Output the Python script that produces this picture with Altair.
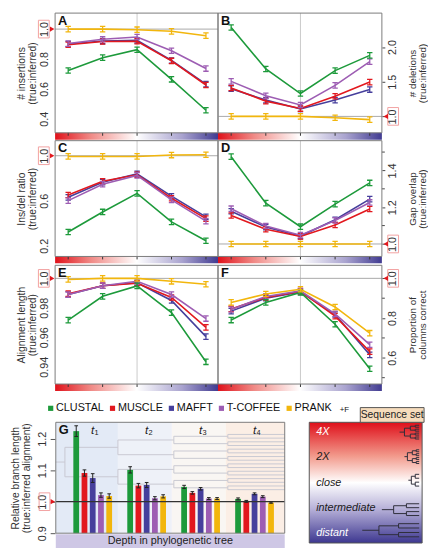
import altair as alt
import pandas as pd

# ---------------- data ----------------
methods = ["CLUSTAL", "MUSCLE", "MAFFT", "T-COFFEE", "PRANK"]
method_colors = ["#1d9a3b", "#e2181e", "#463f9c", "#9d5db3", "#f2b60d"]
draw_order = ["MAFFT", "MUSCLE", "T-COFFEE", "CLUSTAL", "PRANK"]
seq_sets = ["4X", "2X", "close", "intermediate", "distant"]
set_index = [0, 1, 2, 3, 4]

# A: # insertions (true:inferred)
ins_clustal = [0.723, 0.809, 0.862, 0.664, 0.457]
ins_muscle = [0.895, 0.917, 0.919, 0.787, 0.626]
ins_mafft = [0.900, 0.920, 0.925, 0.790, 0.632]
ins_tcoffee = [0.903, 0.932, 0.947, 0.855, 0.736]
ins_prank = [1.000, 1.000, 0.996, 0.985, 0.956]

# B: # deletions (true:inferred)
del_clustal = [2.283, 1.684, 1.330, 1.660, 1.880]
del_muscle = [1.410, 1.220, 1.113, 1.290, 1.495]
del_mafft = [1.400, 1.235, 1.108, 1.235, 1.387]
del_tcoffee = [1.505, 1.297, 1.165, 1.448, 1.790]
del_prank = [1.000, 1.000, 1.000, 0.980, 0.953]

# C: Ins/del ratio (true:inferred)
idr_clustal = [0.322, 0.500, 0.665, 0.412, 0.244]
idr_muscle = [0.651, 0.773, 0.831, 0.622, 0.441]
idr_mafft = [0.630, 0.765, 0.840, 0.640, 0.456]
idr_tcoffee = [0.601, 0.747, 0.825, 0.607, 0.418]
idr_prank = [0.994, 0.994, 0.994, 1.006, 1.009]

# D: Gap overlap (true:inferred)
gap_clustal = [1.475, 1.222, 1.094, 1.217, 1.332]
gap_muscle = [1.155, 1.080, 1.041, 1.103, 1.190]
gap_mafft = [1.178, 1.092, 1.043, 1.132, 1.244]
gap_tcoffee = [1.192, 1.098, 1.048, 1.128, 1.226]
gap_prank = [1.000, 1.000, 1.000, 1.000, 1.000]

# E: Alignment length (true:inferred)
len_clustal = [0.9716, 0.9878, 0.9949, 0.9767, 0.9433]
len_muscle = [0.9896, 0.9950, 0.9967, 0.9870, 0.9667]
len_mafft = [0.9890, 0.9950, 0.9970, 0.9850, 0.9604]
len_tcoffee = [0.9890, 0.9950, 0.9980, 0.9890, 0.9727]
len_prank = [0.9993, 1.0000, 1.0000, 0.9980, 0.9960]

# F: Proportion of columns correct
col_clustal = [0.790, 0.879, 0.929, 0.769, 0.545]
col_muscle = [0.846, 0.904, 0.934, 0.810, 0.631]
col_mafft = [0.835, 0.900, 0.932, 0.818, 0.615]
col_tcoffee = [0.843, 0.909, 0.937, 0.821, 0.666]
col_prank = [0.879, 0.921, 0.945, 0.856, 0.724]

# G: Relative branch length (true:inferred alignment)
branch_groups = ["t1", "t2", "t3", "t4"]
branch_sub = ["1", "2", "3", "4"]
br_clustal = [1.224, 1.101, 1.047, 1.009]
br_muscle = [1.091, 1.051, 1.028, 1.001]
br_mafft = [1.075, 1.053, 1.041, 1.025]
br_tcoffee = [1.021, 1.011, 1.010, 1.016]
br_prank = [1.018, 1.017, 1.010, 0.997]
br_err_clustal = [0.017, 0.010, 0.005, 0.003]
br_err_muscle = [0.010, 0.007, 0.004, 0.003]
br_err_mafft = [0.014, 0.008, 0.004, 0.003]
br_err_tcoffee = [0.007, 0.005, 0.003, 0.003]
br_err_prank = [0.007, 0.005, 0.003, 0.002]

# ---------------- style ----------------
FONT = "Liberation Sans"
RED = "#e2181e"
XDOM = [-0.38, 4.35]
IBEAM = "M-1,-1L1,-1M0,-1L0,1M-1,1L1,1"
CAP = "M-1,0L1,0"
one = pd.DataFrame({"k": [0]})
sets_df = pd.DataFrame({"pos": set_index, "set": seq_sets})
color_of = dict(zip(methods, method_colors))


def hgrad():
    return alt.Gradient(
        gradient="linear", x1=0, x2=1, y1=0, y2=0,
        stops=[alt.GradientStop(offset=0, color="#e0121b"),
               alt.GradientStop(offset=0.22, color="#f08a86"),
               alt.GradientStop(offset=0.5, color="#ffffff"),
               alt.GradientStop(offset=0.78, color="#a9a3cf"),
               alt.GradientStop(offset=1, color="#413b91")])


def vgrad():
    return alt.Gradient(
        gradient="linear", x1=0, x2=0, y1=0, y2=1,
        stops=[alt.GradientStop(offset=0, color="#df0f1a"),
               alt.GradientStop(offset=0.28, color="#f29a8c"),
               alt.GradientStop(offset=0.5, color="#ffffff"),
               alt.GradientStop(offset=0.72, color="#b6b0d8"),
               alt.GradientStop(offset=1, color="#3d3790")])


def axis_def(side, values, title, fmt=".1f", label_expr=None, left_ticks=False):
    ax = dict(orient=side, values=values, domain=False, grid=False,
              labelFont=FONT, labelFontSize=11, labelColor="#333",
              labelAngle=270, labelAlign="center", labelOverlap=False,
              labelFlush=False, titleFont=FONT, titleFontSize=10.5,
              titleFontWeight="normal", titleColor="#333", titleAngle=270,
              titleLineHeight=11, title=title, format=fmt)
    if side == "left":
        if left_ticks:
            ax.update(ticks=True, tickSize=5, tickColor="#555", labelPadding=3,
                      labelBaseline="bottom", titleBaseline="bottom", titlePadding=5)
        else:
            ax.update(ticks=False, labelPadding=6, labelBaseline="bottom",
                      titleBaseline="bottom", titlePadding=1)
    else:
        ax.update(tickSize=3, tickColor="#444", labelPadding=2,
                  labelBaseline="top", titleBaseline="top", titlePadding=0,
                  titleFontSize=10, titleLineHeight=10)
    if label_expr:
        ax["labelExpr"] = label_expr
    return alt.Axis(**ax)


def line_panel(series, xr, yr, ydom, side, axis, letter, minor=None):
    rows = []
    for m, vals in zip(methods, series):
        for i, v in zip(set_index, vals):
            rows.append({"method": m, "pos": i, "value": v})
    df = pd.DataFrame(rows)
    xs = alt.Scale(domain=XDOM, range=xr, zero=False, nice=False)
    ys = alt.Scale(domain=ydom, range=yr, zero=False, nice=False)
    xmin, xmax = XDOM
    edge = xmin if side == "left" else xmax

    def xd(v):
        return alt.XDatum(v, type="quantitative", scale=xs, axis=None)

    def yd(v):
        return alt.YDatum(v, type="quantitative", scale=ys, axis=axis)

    deco = alt.Chart(one)
    layers = [
        deco.mark_rule(color="#bdbdbd", strokeWidth=0.8).encode(
            x=xd(2), y=yd(ydom[0]), y2=alt.Y2Datum(ydom[1])),
        deco.mark_rule(color="#a8a8a8", strokeWidth=1).encode(
            x=xd(xmin), x2=alt.X2Datum(xmax), y=yd(1.0)),
    ]
    for m in draw_order:
        sub = alt.Chart(df).transform_filter(alt.datum.method == m)
        enc = dict(x=alt.X("pos:Q", scale=xs, axis=None),
                   y=alt.Y("value:Q", scale=ys, axis=axis))
        layers.append(sub.mark_line(strokeWidth=1.6, color=color_of[m]).encode(**enc))
        layers.append(sub.mark_point(shape=IBEAM, size=30, filled=False,
                                     strokeWidth=1.3, opacity=1,
                                     color=color_of[m]).encode(**enc))
    if minor:
        layers.append(alt.Chart(pd.DataFrame({"value": minor})).mark_rule(
            color="#444", strokeWidth=1, x2Offset=3).encode(
            x=xd(edge), x2=alt.X2Datum(edge),
            y=alt.Y("value:Q", scale=ys, axis=axis)))
    if side == "left":
        box_off, tri_shape, tri_off = (-17, -6), "triangle-right", -3
    else:
        box_off, tri_shape, tri_off = (6, 17), "triangle-left", 4
    layers += [
        deco.mark_rect(fill=hgrad()).encode(
            x=xd(xmin), x2=alt.X2Datum(xmax),
            y=alt.value(yr[0]), y2=alt.value(yr[0] + 7)),
        alt.Chart(sets_df).mark_rule(color="#333", strokeWidth=1).encode(
            x=alt.X("pos:Q", scale=xs, axis=None),
            y=alt.value(yr[0]), y2=alt.value(yr[0] + 3)),
        deco.mark_rect(fillOpacity=0, stroke="#f2a1a1", strokeWidth=1,
                       xOffset=box_off[0], x2Offset=box_off[1],
                       yOffset=-9, y2Offset=9).encode(
            x=xd(edge), x2=alt.X2Datum(edge), y=yd(1.0), y2=alt.Y2Datum(1.0)),
        deco.mark_point(shape=tri_shape, filled=True, color=RED, size=28,
                        opacity=1, xOffset=tri_off).encode(x=xd(edge), y=yd(1.0)),
        deco.mark_text(text=letter, font=FONT, fontSize=13, fontWeight="bold",
                       align="left", baseline="top", dx=3, dy=2,
                       color="#111").encode(x=xd(xmin), y=yd(ydom[1])),
        deco.mark_rect(fillOpacity=0, stroke="#7a7a7a", strokeWidth=1).encode(
            x=xd(xmin), x2=alt.X2Datum(xmax), y=yd(ydom[0]), y2=alt.Y2Datum(ydom[1])),
    ]
    return alt.layer(*layers)


# ---------------- panels A-F ----------------
XL, XR = [0, 166], [166, 333]
row1, row2, row3 = [122, 0], [248, 130], [378, 257]

A = line_panel([ins_clustal, ins_muscle, ins_mafft, ins_tcoffee, ins_prank],
               XL, row1, [0.306, 1.107], "left",
               axis_def("left", [0.4, 0.6, 0.8, 1.0], ["# insertions", "(true:inferred)"]), "A")
B = line_panel([del_clustal, del_muscle, del_mafft, del_tcoffee, del_prank],
               XR, row1, [0.763, 2.49], "right",
               axis_def("right", [1.0, 1.5, 2.0], ["# deletions", "(true:inferred)"]), "B")
C = line_panel([idr_clustal, idr_muscle, idr_mafft, idr_tcoffee, idr_prank],
               XL, row2, [0.104, 1.134], "left",
               axis_def("left", [0.2, 0.6, 1.0], ["Ins/del ratio", "(true:inferred)"]), "C")
D = line_panel([gap_clustal, gap_muscle, gap_mafft, gap_tcoffee, gap_prank],
               XR, row2, [0.932, 1.562], "right",
               axis_def("right", [1.0, 1.2, 1.4], ["Gap overlap", "(true:inferred)"]), "D",
               minor=[1.1, 1.3, 1.5])
E = line_panel([len_clustal, len_muscle, len_mafft, len_tcoffee, len_prank],
               XL, row3, [0.9282, 1.00889], "left",
               axis_def("left", [0.94, 0.96, 0.98, 1.0], ["Alignment length", "(true:inferred)"],
                        fmt=".2f",
                        label_expr="datum.value > 0.999 ? '1.0' : datum.label"), "E")
F = line_panel([col_clustal, col_muscle, col_mafft, col_tcoffee, col_prank],
               XR, row3, [0.468, 1.0657], "right",
               axis_def("right", [0.6, 0.8, 1.0], ["Proportion of", "columns correct"]), "F",
               minor=[0.5, 0.7, 0.9])

# ---------------- panel G ----------------
grows = []
for m, vals, errs in zip(methods,
                         [br_clustal, br_muscle, br_mafft, br_tcoffee, br_prank],
                         [br_err_clustal, br_err_muscle, br_err_mafft, br_err_tcoffee, br_err_prank]):
    for g, v, e in zip(branch_groups, vals, errs):
        grows.append({"group": g, "method": m, "value": v, "lo": v - e, "hi": v + e})
gdf = pd.DataFrame(grows)
glab = pd.DataFrame({"group": branch_groups, "sub": branch_sub})

GX0, GX1 = 0.7, 234
GDOM = [0.9, 1.252]
gxs = alt.Scale(domain=branch_groups, range=[GX0, GX1], paddingInner=0.236,
                paddingOuter=0.24, align=0.63)
gos = alt.Scale(domain=methods, paddingInner=0.3, paddingOuter=0.15)
gys = alt.Scale(domain=GDOM, range=[530, 417], zero=False, nice=False)
fill_scale = alt.Scale(domain=methods, range=method_colors)
leg = alt.Legend(orient="none", legendX=-10, legendY=397, direction="horizontal",
                 title=None, symbolType="square", symbolSize=28,
                 symbolStrokeWidth=0, labelFont=FONT, labelFontSize=11,
                 labelColor="#111", columnPadding=3, labelOffset=0,
                 padding=0, offset=0)
gaxis = axis_def("left", [0.9, 1.0, 1.1, 1.2],
                 ["Relative branch length", "(true:inferred alignment)"],
                 left_ticks=True)


def gyd(v):
    return alt.YDatum(v, type="quantitative", scale=gys, axis=gaxis)


def gy(field):
    return alt.Y(field, type="quantitative", scale=gys, axis=gaxis)


GXE = alt.X("group:N", scale=gxs, axis=None)
GXO = alt.XOffset("method:N", scale=gos)

# background regions and tree (decorative)
regions = pd.DataFrame({"x": [GX0, 64, 119, 174], "x2": [64, 119, 174, GX1],
                        "c": ["#e3eaf6", "#eef1f8", "#f9f6f3", "#fbeee5"]})


def tree_segs(x_stem0, levels, y0):
    segs = [(x_stem0, levels[0][0], y0, y0)]
    nodes = [y0]
    for xs_, xe, sp in levels:
        new = []
        for y in nodes:
            segs.append((xs_, xs_, y - sp, y + sp))
            segs.append((xs_, xe, y - sp, y - sp))
            segs.append((xs_, xe, y + sp, y + sp))
            new += [y - sp, y + sp]
        nodes = new
    return segs


bg_tree = pd.DataFrame(tree_segs(GX0, [(10, 64, 15), (64, 121, 7.5), (121, 176, 3.75), (176, GX1, 1.875)], 457.5),
                       columns=["x", "x2", "y", "y2"])

G_bg = alt.layer(
    alt.Chart(regions).mark_rect().encode(
        x=alt.X("x:Q", scale=None), x2="x2", y=alt.value(417), y2=alt.value(530),
        color=alt.Color("c:N", scale=None)),
    alt.Chart(bg_tree).mark_rule(color="#c9c9d2", strokeWidth=1).encode(
        x=alt.X("x:Q", scale=None), x2="x2", y=alt.Y("y:Q", scale=None), y2="y2"),
)

gdeco = alt.Chart(one)
G = alt.layer(
    alt.Chart(gdf).mark_bar().encode(
        x=GXE, xOffset=GXO, y=gy("value"), y2=alt.Y2Datum(0.9),
        fill=alt.Fill("method:N", scale=fill_scale, legend=leg)),
    gdeco.mark_rule(color="#333", strokeWidth=1.2).encode(
        x=alt.value(GX0), x2=alt.value(GX1), y=gyd(1.0)),
    alt.Chart(gdf).mark_rule(color="#222", strokeWidth=1).encode(
        x=GXE, xOffset=GXO, y=gy("lo"), y2="hi:Q"),
    alt.Chart(gdf).mark_point(shape=CAP, size=14, filled=False, strokeWidth=1,
                              color="#222", opacity=1).encode(
        x=GXE, xOffset=GXO, y=gy("lo")),
    alt.Chart(gdf).mark_point(shape=CAP, size=14, filled=False, strokeWidth=1,
                              color="#222", opacity=1).encode(
        x=GXE, xOffset=GXO, y=gy("hi")),
    alt.Chart(glab).mark_text(text="t", font=FONT, fontSize=12, fontStyle="italic",
                              baseline="middle", dy=8, color="#222").encode(
        x=GXE, y=gyd(GDOM[1])),
    alt.Chart(glab).mark_text(font=FONT, fontSize=7.5, baseline="middle",
                              dx=4, dy=11, color="#222").encode(
        x=GXE, y=gyd(GDOM[1]), text="sub:N"),
    gdeco.mark_rect(fillOpacity=0, stroke="#f2a1a1", strokeWidth=1,
                    xOffset=-17, x2Offset=-6, yOffset=-9, y2Offset=9).encode(
        x=alt.value(GX0), x2=alt.value(GX0), y=gyd(1.0), y2=alt.Y2Datum(1.0)),
    gdeco.mark_point(shape="triangle-right", filled=True, color=RED, size=28,
                     opacity=1, xOffset=-3).encode(x=alt.value(GX0), y=gyd(1.0)),
    gdeco.mark_text(text="G", font=FONT, fontSize=13, fontWeight="bold",
                    align="left", baseline="top", dx=3, dy=2, color="#111").encode(
        x=alt.value(GX0), y=gyd(GDOM[1])),
    gdeco.mark_rect(fillOpacity=0, stroke="#7a7a7a", strokeWidth=1).encode(
        x=alt.value(GX0), x2=alt.value(GX1), y=gyd(GDOM[0]), y2=alt.Y2Datum(GDOM[1])),
)

G_band = alt.layer(
    gdeco.mark_rect(fill="#cec7e5").encode(
        x=alt.value(GX0), x2=alt.value(GX1), y=alt.value(531), y2=alt.value(545)),
    gdeco.mark_text(text="Depth in phylogenetic tree", font=FONT, fontSize=11,
                    color="#222", baseline="middle").encode(
        x=alt.value((GX0 + GX1) / 2), y=alt.value(538.5)),
    gdeco.mark_text(text="+F", font=FONT, fontSize=8, color="#111",
                    align="left", baseline="middle").encode(
        x=alt.value(290), y=alt.value(404)),
)

# ---------------- sequence-set key ----------------
icons = []
for yc, xstem, lv in [
    (427, 351, [(356, 362, 4), (362, 367, 2), (367, 371, 1)]),
    (452, 356, [(359, 364, 4), (364, 368, 2), (368, 371, 1)]),
    (476, 360, [(363, 367, 4), (367, 371, 2)]),
    (506, 333, [(345, 358, 4), (358, 371, 2)]),
    (527, 313, [(330, 350, 4.5), (350, 371, 2.2)]),
]:
    icons += tree_segs(xstem, lv, yc)
icon_df = pd.DataFrame(icons, columns=["x", "x2", "y", "y2"])
set_y = alt.Y("set:N", type="nominal",
              scale=alt.Scale(type="point", domain=seq_sets, range=[427, 530], padding=0),
              axis=None)

SEQ = alt.layer(
    gdeco.mark_rect(fill=vgrad(), stroke="#555", strokeWidth=1).encode(
        x=alt.value(259), x2=alt.value(374), y=alt.value(417), y2=alt.value(540)),
    alt.Chart(icon_df).mark_rule(color="#2e2e3a", strokeWidth=1).encode(
        x=alt.X("x:Q", scale=None), x2="x2", y=alt.Y("y:Q", scale=None), y2="y2"),
    alt.Chart(sets_df).transform_filter(
        alt.FieldOneOfPredicate(field="set", oneOf=["4X", "distant"])).mark_text(
        font=FONT, fontSize=11, fontStyle="italic", align="left",
        baseline="middle", color="#ffffff").encode(
        x=alt.value(266), y=set_y, text="set:N"),
    alt.Chart(sets_df).transform_filter(
        alt.FieldOneOfPredicate(field="set", oneOf=["2X", "close", "intermediate"])).mark_text(
        font=FONT, fontSize=11, fontStyle="italic", align="left",
        baseline="middle", color="#1a1a1a").encode(
        x=alt.value(266), y=set_y, text="set:N"),
    gdeco.mark_rect(fill="#f6dcbc", stroke="#555", strokeWidth=1).encode(
        x=alt.value(311), x2=alt.value(376), y=alt.value(402), y2=alt.value(417)),
    gdeco.mark_text(text="Sequence set", font=FONT, fontSize=10.5, color="#222",
                    baseline="middle").encode(x=alt.value(343.5), y=alt.value(409.5)),
)

chart = alt.layer(A, B, C, D, E, F, G_bg, G, G_band, SEQ).resolve_scale(
    x="independent", y="independent"
).properties(
    width=333, height=546,
    padding={"left": 48, "top": 0, "right": 47, "bottom": 0},
    autosize=alt.AutoSizeParams(type="none"),
).configure(font=FONT).configure_view(stroke=None)

chart.save("out.html", embed_options={"renderer": "svg", "actions": False})
